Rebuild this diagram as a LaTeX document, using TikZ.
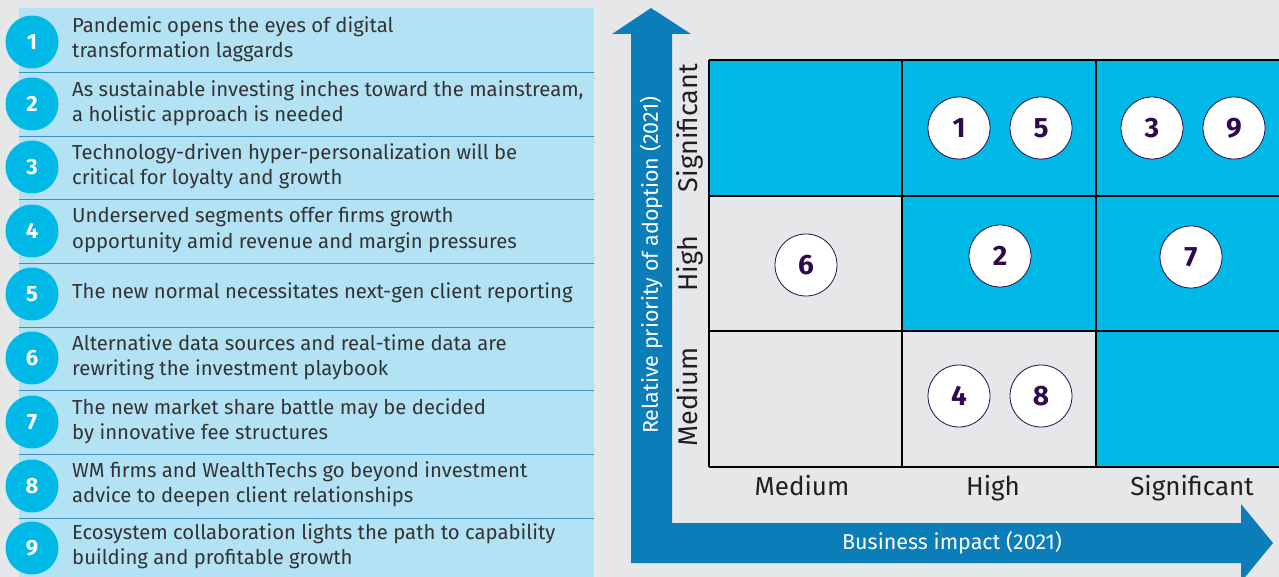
\documentclass[tikz,border=0pt]{standalone}
\usepackage{fontspec}
\setmainfont{Fira Sans}
\definecolor{bg}{HTML}{E6E7E9}
\definecolor{panel}{HTML}{B3E2F5}
\definecolor{cyanc}{HTML}{00B9E7}
\definecolor{sep}{HTML}{3D8FC6}
\definecolor{arrowblue}{HTML}{0B7DB8}
\definecolor{purp}{HTML}{2E0A4F}
\definecolor{txt}{HTML}{333333}
\definecolor{lab}{HTML}{231F20}
\begin{document}
\begin{tikzpicture}[x=1pt,y=-1pt,
  numdot/.style={circle,fill=cyanc,minimum size=53pt,inner sep=0,text=white,font=\fontsize{22}{22}\selectfont\bfseries},
  itemtxt/.style={anchor=west,inner sep=0,align=left,text=txt,font=\fontsize{20.3}{25.5}\selectfont},
  gdot/.style={circle,fill=white,draw=purp,line width=0.8pt,minimum size=62pt,inner sep=0,text=purp,font=\fontsize{28}{28}\selectfont\bfseries},
  ylab/.style={rotate=90,anchor=base,inner sep=0,text=lab,font=\fontsize{27}{27}\selectfont},
  xlab/.style={anchor=base,inner sep=0,text=lab,font=\fontsize{26}{26}\selectfont},
  axtxt/.style={inner sep=0,text=white,font=\fontsize{21.5}{21.5}\selectfont},
  gridline/.style={draw=black,line width=1.2pt}
]
\useasboundingbox (0,0) rectangle (1279,577);
\fill[bg] (0,0) rectangle (1279,577);
% left panel
\fill[panel] (19,8) rectangle (594,577);
\foreach \y in {72,136,199,263,327,390,454,518}
  \draw[sep,line width=0.9pt] (19,\y) -- (594,\y);
\node[numdot] (c1) at (32,42) {1};
\node[numdot] (c2) at (32,104) {2};
\node[numdot] (c3) at (32,167) {3};
\node[numdot] (c4) at (32,231) {4};
\node[numdot] (c5) at (32,294) {5};
\node[numdot] (c6) at (32,358) {6};
\node[numdot] (c7) at (32,422) {7};
\node[numdot] (c8) at (32,486) {8};
\node[numdot] (c9) at (32,548) {9};
\node[itemtxt] (t1) at (72,39) {Pandemic opens the eyes of digital\\transformation laggards};
\node[itemtxt] (t2) at (72,103) {As sustainable investing inches toward the mainstream,\\a holistic approach is needed};
\node[itemtxt] (t3) at (72,166) {Technology-driven hyper-personalization will be\\critical for loyalty and growth};
\node[itemtxt] (t4) at (72,230) {Underserved segments offer firms growth\\opportunity amid revenue and margin pressures};
\node[itemtxt] (t5) at (72,293) {The new normal necessitates next-gen client reporting};
\node[itemtxt] (t6) at (72,357) {Alternative data sources and real-time data are\\rewriting the investment playbook};
\node[itemtxt] (t7) at (72,421) {The new market share battle may be decided\\by innovative fee structures};
\node[itemtxt] (t8) at (72,484) {WM firms and WealthTechs go beyond investment\\advice to deepen client relationships};
\node[itemtxt] (t9) at (72,546) {Ecosystem collaboration lights the path to capability\\building and profitable growth};
% L-shaped arrow
\fill[arrowblue] (651,8) -- (691,34) -- (672,34) -- (672,523) -- (1241,523) -- (1241,504)
  -- (1273,543) -- (1241,582) -- (1241,563) -- (631,563) -- (631,34) -- (612,34) -- cycle;
\node[axtxt,rotate=90] (yax) at (651,265) {Relative priority of adoption (2021)};
\node[axtxt] (xax) at (952,543) {Business impact (2021)};
% grid cells
\fill[cyanc] (709,60) rectangle (1279,196);
\fill[cyanc] (902,196) rectangle (1279,331);
\fill[cyanc] (1096,331) rectangle (1279,467);
\foreach \y in {60,196,331,467}
  \draw[gridline] (709,\y) -- (1279,\y);
\foreach \x in {709,902,1096}
  \draw[gridline] (\x,60) -- (\x,467);
% axis category labels
\node[ylab] (ys) at (697,128) {Significant};
\node[ylab] (yh) at (697,264) {High};
\node[ylab] (ym) at (697,397) {Medium};
\node[xlab] (xm) at (802,495) {Medium};
\node[xlab] (xh) at (993,495) {High};
\node[xlab] (xs) at (1192,495) {Significant};
% grid dots
\node[gdot] (g1) at (959,128) {1};
\node[gdot] (g5) at (1041,128) {5};
\node[gdot] (g3) at (1152,128) {3};
\node[gdot] (g9) at (1234,128) {9};
\node[gdot] (g6) at (806,265) {6};
\node[gdot] (g2) at (1000,256) {2};
\node[gdot] (g7) at (1191,257) {7};
\node[gdot] (g4) at (959,396) {4};
\node[gdot] (g8) at (1041,396) {8};
\end{tikzpicture}
\end{document}
